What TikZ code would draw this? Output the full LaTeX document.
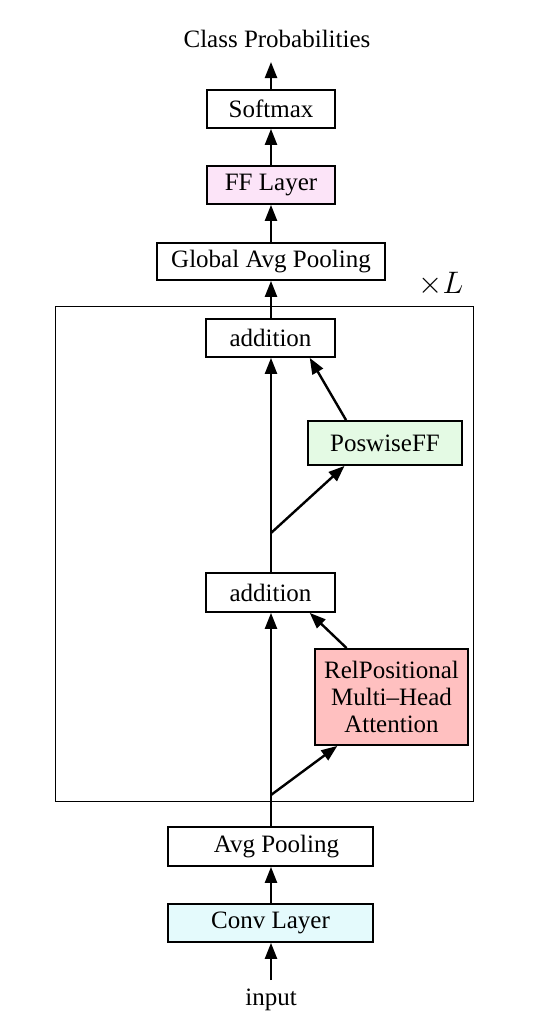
\documentclass[tikz,border=0pt]{standalone}
\usepackage{fontspec}
\setmainfont{Liberation Serif}
\usetikzlibrary{arrows.meta,calc}
\definecolor{ffpink}{HTML}{FCE4F8}
\definecolor{pffgreen}{HTML}{E4FAE4}
\definecolor{relred}{HTML}{FFC0C0}
\definecolor{convcyan}{HTML}{E4FAFC}
\begin{document}
\begin{tikzpicture}[x=1pt,y=-1pt,
  every node/.style={font=\fontsize{25}{28}\selectfont},
  blk/.style={draw,line width=1.8pt,inner sep=0pt,align=center},
  arr/.style={line width=2.4pt,-{Triangle[length=16pt,width=12pt]}},
  ln/.style={line width=2.4pt}]
\useasboundingbox (0,0) rectangle (534,1036);
\draw[line width=1pt] (55,306) rectangle (473,801);
\node[anchor=base] (cls) at (277,47) {Class Probabilities};
\coordinate (clsin) at (271,62);
\node[blk,minimum width=128pt,minimum height=38pt] (softmax) at (271,109) {Softmax};
\node[blk,fill=ffpink,minimum width=128pt,minimum height=38pt] (ff) at (271,185) {FF Layer};
\node[blk,minimum width=228pt,minimum height=37pt] (gap) at (271,261.5) {Global Avg Pooling};
\node (times) at (441,284) {\scalebox{1.25}{$\times L$}};
\node[blk,minimum width=129pt,minimum height=38pt] (add2) at (270.5,338) {addition};
\node[blk,fill=pffgreen,minimum width=154pt,minimum height=44pt] (pff) at (385,443) {PoswiseFF};
\node[blk,minimum width=129pt,minimum height=39pt] (add1) at (270.5,592.5) {addition};
\node[blk,fill=relred,minimum width=153pt,minimum height=96pt,text width=150pt,
  font=\fontsize{25}{27}\selectfont] (rel) at (391.5,697) {RelPositional\\Multi\textendash Head\\Attention};
\node[blk,minimum width=205pt,minimum height=39pt] (avg) at (270.5,846.5) {\hspace{12pt}Avg Pooling};
\node[blk,fill=convcyan,minimum width=205pt,minimum height=38pt] (conv) at (270.5,923) {Conv Layer};
\node[anchor=base] (input) at (271,1005) {input};
\coordinate (inp) at (271,980);
\coordinate (b1) at (271,795);
\coordinate (b2) at (271,533);
% connectors
\draw[arr] (inp) -- (conv.south -| inp);
\draw[arr] (conv.north -| 271,0) -- (271,0 |- avg.south);
\draw[arr] (avg.north -| 271,0) -- (271,0 |- add1.south);
\draw[arr] (b1) -- ($(rel.south west)!0.15!(rel.south east)$);
\draw[arr] ($(rel.north west)!0.21!(rel.north east)$) -- ($(add1.south west)!0.8!(add1.south east)$);
\draw[arr] (add1.north -| 271,0) -- (271,0 |- add2.south);
\draw[arr] (b2) -- ($(pff.south west)!0.24!(pff.south east)$);
\draw[arr] ($(pff.north west)!0.25!(pff.north east)$) -- ($(add2.south west)!0.8!(add2.south east)$);
\draw[arr] (add2.north -| 271,0) -- (271,0 |- gap.south);
\draw[arr] (gap.north -| 271,0) -- (271,0 |- ff.south);
\draw[arr] (ff.north -| 271,0) -- (271,0 |- softmax.south);
\draw[arr] (softmax.north -| 271,0) -- (clsin);
\end{tikzpicture}
\end{document}
